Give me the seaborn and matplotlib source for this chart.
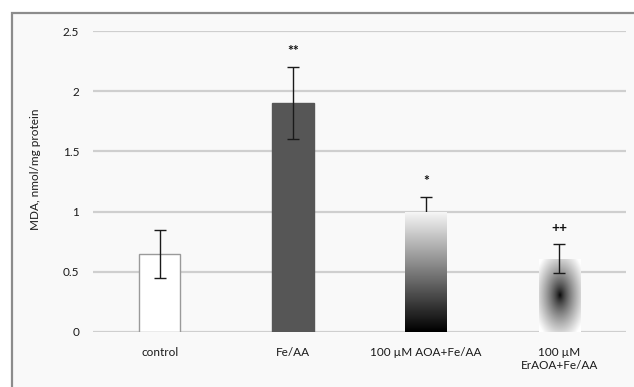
import numpy as np
import pandas as pd
import matplotlib
matplotlib.use("Agg")
import matplotlib.pyplot as plt
from matplotlib.patches import Rectangle
import seaborn as sns

groups = ["control", "Fe/AA", "100 µM AOA+Fe/AA", "100 µM\nErAOA+Fe/AA"]
mda = [0.65, 1.90, 1.00, 0.61]
sd = [0.20, 0.30, 0.12, 0.12]
marks = ["", "**", "*", "++"]
y_ticks = [0, 0.5, 1, 1.5, 2, 2.5]
y_tick_labels = ["0", "0.5", "1", "1.5", "2", "2.5"]

sns.set_theme(style="white")
plt.rcParams["font.family"] = ["Lato", "DejaVu Sans"]

fig = plt.figure(figsize=(6.34, 3.87), dpi=100)
fig.patch.set_facecolor("white")
fig.add_artist(Rectangle((12 / 634, -0.01), 1.0, 1 - 13 / 387 + 0.01,
                         transform=fig.transFigure, facecolor="#f9f9f9",
                         edgecolor="#8c8c8c", linewidth=1.6, zorder=0))

ax = fig.add_axes([93 / 634, 1 - 332 / 387, (626 - 93) / 634, (332 - 31) / 387])
ax.set_facecolor("none")

df = pd.DataFrame({"group": groups, "mda": mda})
sns.barplot(data=df, x="group", y="mda", order=groups, width=0.31,
            color="white", ax=ax, zorder=3, errorbar=None)

bars = ax.patches
bars[0].set_facecolor("white")
bars[0].set_edgecolor("#9a9a9a")
bars[0].set_linewidth(1.0)
bars[1].set_facecolor("#565656")
bars[1].set_edgecolor("#565656")
for b in bars[2:]:
    b.set_facecolor("none")
    b.set_edgecolor("none")

# vertical fill for the AOA bar: near white at the top, black at the base
b = bars[2]
x0, w, h = b.get_x(), b.get_width(), b.get_height()
grad = np.linspace(0.97, 0.0, 256).reshape(-1, 1)
im = ax.imshow(grad, cmap="gray", aspect="auto", origin="upper",
               extent=[x0, x0 + w, 0, h], vmin=0, vmax=1.0, zorder=4,
               interpolation="bilinear")
im.set_clip_path(b)

# radial dark-centre fill for the ErAOA bar
b = bars[3]
x0, w, h = b.get_x(), b.get_width(), b.get_height()
gx = np.linspace(-1, 1, 200)
gy = np.linspace(-1, 1, 200)
X, Y = np.meshgrid(gx, gy)
r = np.sqrt(X ** 2 + Y ** 2)
rad = np.clip(r / 1.3, 0, 1) ** 0.7
im2 = ax.imshow(rad, cmap="gray", aspect="auto", origin="lower",
                extent=[x0, x0 + w, 0, h], vmin=0, vmax=1, zorder=2.5,
                interpolation="bilinear")
im2.set_clip_path(b)

centers = [p.get_x() + p.get_width() / 2 for p in bars]
ax.errorbar(centers, mda, yerr=sd, fmt="none", ecolor="#1a1a1a",
            elinewidth=1.0, capsize=4, capthick=1.0, zorder=3.5)

for cx, v, e, m in zip(centers, mda, sd, marks):
    if m:
        ax.text(cx, v + e + 0.13, m, ha="center", va="center",
                fontsize=10, fontweight="bold", color="#111111", zorder=6)

ax.set_ylim(0, 2.5)
ax.set_xlim(-0.5, len(groups) - 0.5)
ax.set_yticks(y_ticks)
ax.set_yticklabels(y_tick_labels)
ax.yaxis.grid(True, color="#cfcfcf", linewidth=1.6, zorder=0)
ax.set_axisbelow(True)
for s in ax.spines.values():
    s.set_visible(False)
ax.tick_params(axis="both", length=0, labelsize=8.5, colors="#1a1a1a")
ax.tick_params(axis="y", pad=10)
ax.tick_params(axis="x", pad=11)
ax.set_xlabel("")
ax.set_ylabel("MDA, nmol/mg protein", fontsize=8.5, color="#1a1a1a")
ax.yaxis.set_label_coords(-0.098, 0.54)

fig.savefig("out.png", dpi=100)
